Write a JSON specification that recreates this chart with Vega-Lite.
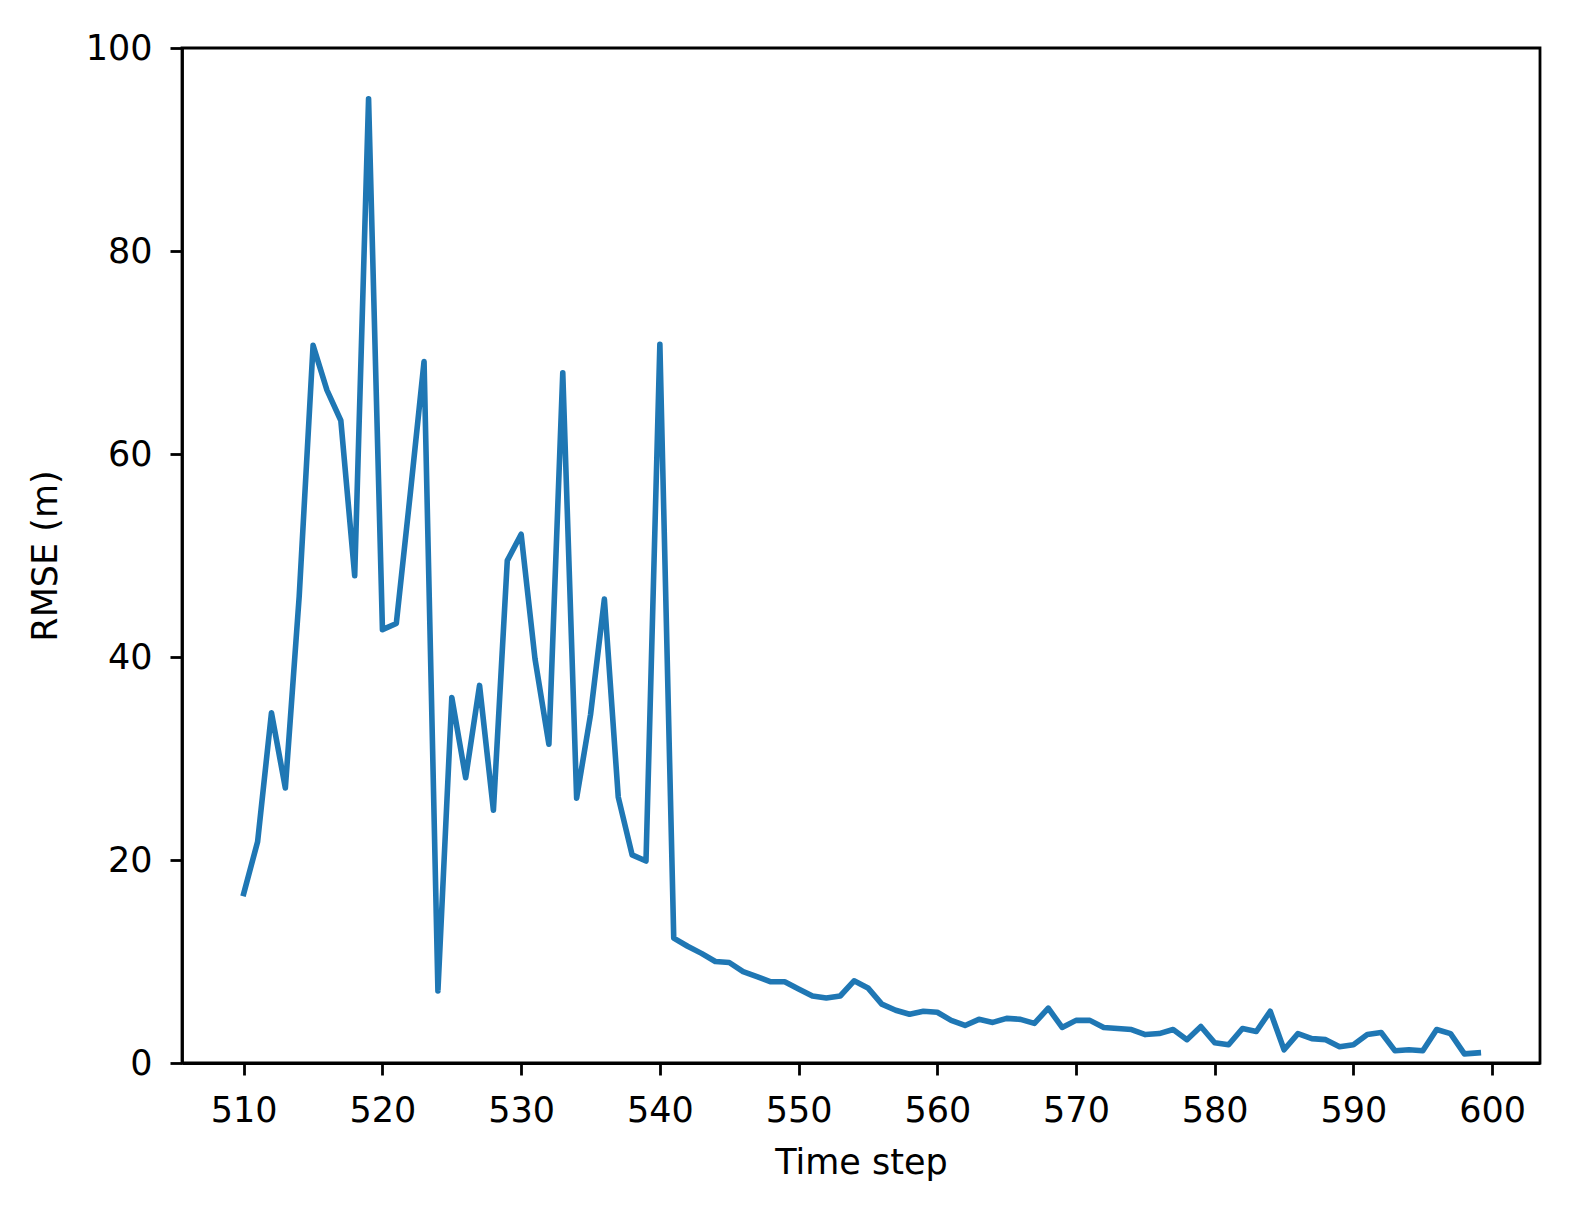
{
  "$schema": "https://vega.github.io/schema/vega-lite/v6.json",
  "autosize": "none",
  "width": 1358,
  "height": 1015,
  "padding": {"left": 182, "top": 48, "right": 36, "bottom": 142},
  "background": "white",
  "data": {
    "values": [
      {"step": 510, "rmse": 16.7}, {"step": 511, "rmse": 21.8}, {"step": 512, "rmse": 34.5},
      {"step": 513, "rmse": 27.1}, {"step": 514, "rmse": 46.0}, {"step": 515, "rmse": 70.7},
      {"step": 516, "rmse": 66.3}, {"step": 517, "rmse": 63.3}, {"step": 518, "rmse": 48.0},
      {"step": 519, "rmse": 95.0}, {"step": 520, "rmse": 42.7}, {"step": 521, "rmse": 43.3},
      {"step": 522, "rmse": 56.0}, {"step": 523, "rmse": 69.1}, {"step": 524, "rmse": 7.1},
      {"step": 525, "rmse": 36.0}, {"step": 526, "rmse": 28.1}, {"step": 527, "rmse": 37.2},
      {"step": 528, "rmse": 24.9}, {"step": 529, "rmse": 49.5}, {"step": 530, "rmse": 52.1},
      {"step": 531, "rmse": 39.8}, {"step": 532, "rmse": 31.4}, {"step": 533, "rmse": 68.0},
      {"step": 534, "rmse": 26.1}, {"step": 535, "rmse": 34.3}, {"step": 536, "rmse": 45.7},
      {"step": 537, "rmse": 26.2}, {"step": 538, "rmse": 20.5}, {"step": 539, "rmse": 19.9},
      {"step": 540, "rmse": 70.8}, {"step": 541, "rmse": 12.3}, {"step": 542, "rmse": 11.5},
      {"step": 543, "rmse": 10.8}, {"step": 544, "rmse": 10.0}, {"step": 545, "rmse": 9.9},
      {"step": 546, "rmse": 9.0}, {"step": 547, "rmse": 8.5}, {"step": 548, "rmse": 8.0},
      {"step": 549, "rmse": 8.0}, {"step": 550, "rmse": 7.3}, {"step": 551, "rmse": 6.6},
      {"step": 552, "rmse": 6.4}, {"step": 553, "rmse": 6.6}, {"step": 554, "rmse": 8.1},
      {"step": 555, "rmse": 7.4}, {"step": 556, "rmse": 5.8}, {"step": 557, "rmse": 5.2},
      {"step": 558, "rmse": 4.8}, {"step": 559, "rmse": 5.1}, {"step": 560, "rmse": 5.0},
      {"step": 561, "rmse": 4.2}, {"step": 562, "rmse": 3.7}, {"step": 563, "rmse": 4.3},
      {"step": 564, "rmse": 4.0}, {"step": 565, "rmse": 4.4}, {"step": 566, "rmse": 4.3},
      {"step": 567, "rmse": 3.9}, {"step": 568, "rmse": 5.4}, {"step": 569, "rmse": 3.5},
      {"step": 570, "rmse": 4.2}, {"step": 571, "rmse": 4.2}, {"step": 572, "rmse": 3.5},
      {"step": 573, "rmse": 3.4}, {"step": 574, "rmse": 3.3}, {"step": 575, "rmse": 2.8},
      {"step": 576, "rmse": 2.9}, {"step": 577, "rmse": 3.3}, {"step": 578, "rmse": 2.3},
      {"step": 579, "rmse": 3.6}, {"step": 580, "rmse": 2.0}, {"step": 581, "rmse": 1.8},
      {"step": 582, "rmse": 3.4}, {"step": 583, "rmse": 3.1}, {"step": 584, "rmse": 5.1},
      {"step": 585, "rmse": 1.3}, {"step": 586, "rmse": 2.9}, {"step": 587, "rmse": 2.4},
      {"step": 588, "rmse": 2.3}, {"step": 589, "rmse": 1.6}, {"step": 590, "rmse": 1.8},
      {"step": 591, "rmse": 2.8}, {"step": 592, "rmse": 3.0}, {"step": 593, "rmse": 1.2},
      {"step": 594, "rmse": 1.3}, {"step": 595, "rmse": 1.2}, {"step": 596, "rmse": 3.3},
      {"step": 597, "rmse": 2.9}, {"step": 598, "rmse": 0.9}, {"step": 599, "rmse": 1.0}
    ]
  },
  "mark": {
    "type": "line",
    "color": "#1f77b4",
    "strokeWidth": 5.6,
    "strokeCap": "square",
    "strokeJoin": "round",
    "clip": true
  },
  "encoding": {
    "x": {
      "field": "step",
      "type": "quantitative",
      "title": "Time step",
      "scale": {"domain": [505.55, 603.45], "nice": false, "zero": false},
      "axis": {
        "values": [510, 520, 530, 540, 550, 560, 570, 580, 590, 600],
        "labelPadding": 18,
        "titlePadding": 17
      }
    },
    "y": {
      "field": "rmse",
      "type": "quantitative",
      "title": "RMSE (m)",
      "scale": {"domain": [0, 100], "nice": false},
      "axis": {
        "values": [0, 20, 40, 60, 80, 100],
        "labelPadding": 18,
        "titlePadding": 22
      }
    }
  },
  "config": {
    "view": {"stroke": "black", "strokeWidth": 2.8},
    "axis": {
      "grid": false,
      "domainColor": "black",
      "domainWidth": 2.8,
      "tickColor": "black",
      "tickWidth": 2.8,
      "tickSize": 12,
      "labelFont": "DejaVu Sans",
      "labelFontSize": 35,
      "labelColor": "black",
      "titleFont": "DejaVu Sans",
      "titleFontSize": 35,
      "titleFontWeight": "normal",
      "titleColor": "black",
      "labelFlush": false,
      "labelOverlap": false
    }
  }
}
